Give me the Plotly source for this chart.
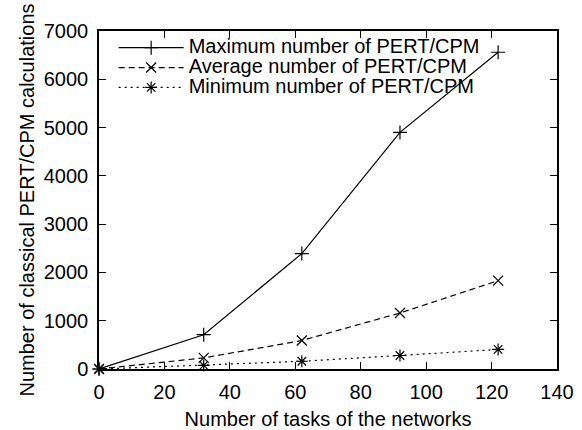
import plotly.graph_objects as go

tasks = [0, 32, 62, 92, 122]
max_calc = [0, 710, 2390, 4900, 6560]
avg_calc = [0, 230, 590, 1160, 1830]
min_calc = [0, 75, 160, 280, 405]

names = ["Maximum number of PERT/CPM",
         "Average number of PERT/CPM",
         "Minimum number of PERT/CPM"]

FONT = "Liberation Sans, Arial, Helvetica, sans-serif"
FS = 20

fig = go.Figure()
styles = [
    (max_calc, "solid", "cross-thin", 10),
    (avg_calc, "6px,4px", "x-thin", 10),
    (min_calc, "2px,4px", "asterisk", 10),
]
for (vals, dash, sym, sz), nm in zip(styles, names):
    fig.add_trace(go.Scatter(
        x=tasks, y=vals, name=f'<span style="font-size:{FS}px">{nm}</span>',
        mode="lines+markers",
        line=dict(color="black", width=1.2, dash=dash),
        marker=dict(symbol=sym, size=sz, color="black",
                    line=dict(color="black", width=1.2)),
        cliponaxis=False,
    ))

axis_common = dict(
    showline=True, linecolor="black", linewidth=1.5, mirror="allticks",
    ticks="inside", ticklen=7, tickwidth=1, tickcolor="black",
    showgrid=False, zeroline=False, automargin=False,
    tickfont=dict(family=FONT, size=FS, color="black"),
)

fig.update_layout(
    width=582, height=430,
    margin=dict(l=99, r=25, t=31, b=61),
    paper_bgcolor="white", plot_bgcolor="white",
    font=dict(family=FONT, size=FS, color="black"),
    showlegend=True,
    legend=dict(
        x=0.032, y=0.995, xanchor="left", yanchor="top",
        bgcolor="rgba(0,0,0,0)", borderwidth=0,
        font=dict(family=FONT, size=13, color="black"),
        itemwidth=65, tracegroupgap=0,
    ),
    xaxis=dict(range=[0, 140], dtick=20, tick0=0, ticklabelstandoff=4,
               title=dict(text="Number of tasks of the networks",
                          font=dict(family=FONT, size=FS), standoff=20),
               **axis_common),
    yaxis=dict(range=[0, 7000], dtick=1000, tick0=0, ticklabelstandoff=5,
               title=dict(text="Number of classical PERT/CPM calculations",
                          font=dict(family=FONT, size=FS), standoff=4),
               **axis_common),
)

fig.write_html("out.html",
               config={"displayModeBar": False},
               post_script="document.body.style.margin='0';")
